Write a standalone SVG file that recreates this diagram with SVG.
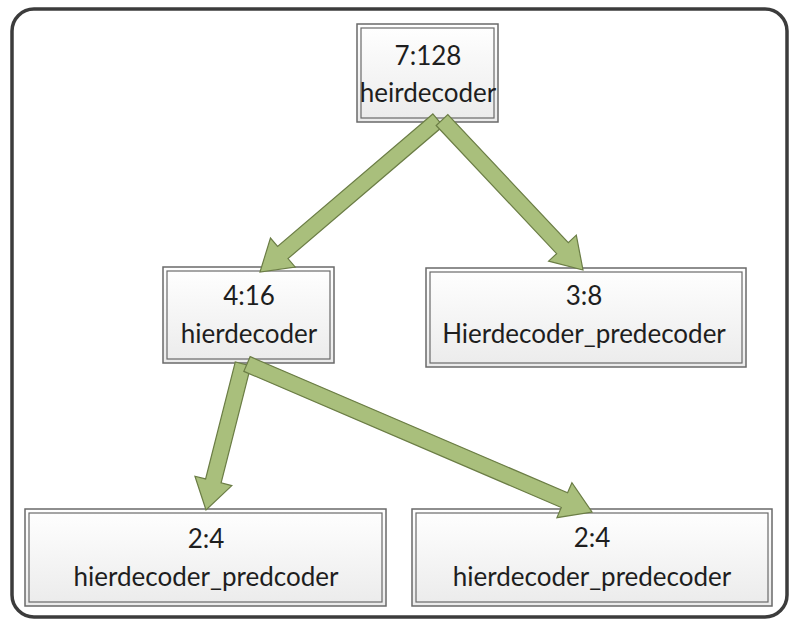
<svg xmlns="http://www.w3.org/2000/svg" width="789" height="620" viewBox="0 0 789 620">
  <defs>
    <linearGradient id="boxFill" x1="0" y1="0" x2="0" y2="1">
      <stop offset="0" stop-color="#ffffff"/>
      <stop offset="1" stop-color="#ebebeb"/>
    </linearGradient>
  </defs>
  <style>
    .frame { fill: #ffffff; stroke: #3c3c3c; stroke-width: 3.5; }
    .outer { fill: url(#boxFill); stroke: #6a6a6a; stroke-width: 1.5; }
    .inner { fill: none; stroke: #6a6a6a; stroke-width: 1.2; }
    .label { font-family: Lato, "Liberation Sans", sans-serif; font-size: 26px; fill: #1e1e1e; text-anchor: middle; }
    .arrow { fill: #a9bf7c; stroke: #6b7d45; stroke-width: 1.2; stroke-linejoin: miter; }
  </style>

  <!-- surrounding frame -->
  <rect class="frame" x="12" y="9" width="775" height="608" rx="22"/>

  <!-- nodes -->
  <g id="node-7-128">
    <rect class="outer" x="357" y="24" width="141" height="98"/>
    <rect class="inner" x="361" y="28" width="133" height="90"/>
    <text class="label" x="428" y="65">7:128</text>
    <text class="label" x="428" y="102">heirdecoder</text>
  </g>
  <g id="node-4-16">
    <rect class="outer" x="163" y="267" width="171" height="96"/>
    <rect class="inner" x="167" y="271" width="163" height="88"/>
    <text class="label" x="249" y="305">4:16</text>
    <text class="label" x="249" y="343">hierdecoder</text>
  </g>
  <g id="node-3-8">
    <rect class="outer" x="426" y="268" width="320" height="99"/>
    <rect class="inner" x="430" y="272" width="312" height="91"/>
    <text class="label" x="584" y="305">3:8</text>
    <text class="label" x="584" y="343">Hierdecoder_predecoder</text>
  </g>
  <g id="node-2-4-left">
    <rect class="outer" x="25" y="509" width="361" height="97"/>
    <rect class="inner" x="29" y="513" width="353" height="89"/>
    <text class="label" x="206" y="548">2:4</text>
    <text class="label" x="206" y="586">hierdecoder_predcoder</text>
  </g>
  <g id="node-2-4-right">
    <rect class="outer" x="412" y="509" width="360" height="97"/>
    <rect class="inner" x="416" y="513" width="352" height="89"/>
    <text class="label" x="592" y="547">2:4</text>
    <text class="label" x="592" y="586">hierdecoder_predecoder</text>
  </g>

  <!-- block-arrow connectors -->
  <g id="connectors">
    <polygon class="arrow" points="432.81,113.92 277.62,246.44 270.47,238.07 260,272 295.15,266.97 288.00,258.60 443.19,126.08"/>
    <polygon class="arrow" points="436.17,125.48 556.63,253.62 548.62,261.15 583,270 576.30,235.13 568.29,242.66 447.83,114.52"/>
    <polygon class="arrow" points="235.24,362.03 205.61,478.95 194.95,476.25 206,510 231.79,485.59 221.13,482.89 250.76,365.97"/>
    <polygon class="arrow" points="243.85,371.35 561.28,507.52 556.94,517.63 592,512 571.92,482.71 567.58,492.82 250.15,356.65"/>
  </g>
</svg>
